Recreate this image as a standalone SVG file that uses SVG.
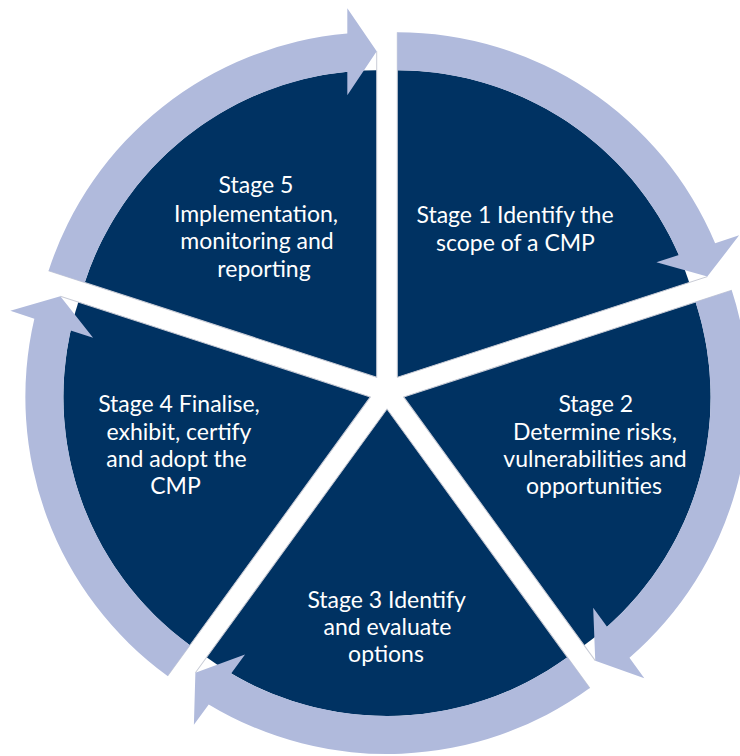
<svg xmlns="http://www.w3.org/2000/svg" width="740" height="756" viewBox="0 0 740 756">
<style>
.wedge{fill:#003262}
.band{fill:#b0badc}
.edge{stroke:#c9ccd6;stroke-width:1;fill:none}
.lbl{font-family:Lato,"Liberation Sans",sans-serif;font-size:23px;fill:#ffffff;text-anchor:middle}
</style>
<defs>
<path id="wedgeShape" class="wedge" d="M0,0 L0,-307 A307,307 0 0 1 291.97,-94.87 Z"/>
<path id="edgeShape" class="edge" d="M0,-345 L0,0 L310.04,-100.74"/>
<path id="arrowBand" class="band" d="M0,-345 A345,345 0 0 1 317.84,-134.18 L341.85,-141.99 L310.04,-100.74 L259.11,-115.10 L281.55,-122.39 A307,307 0 0 0 0,-307 Z"/>
</defs>
<rect width="740" height="756" fill="#ffffff"/>
<g id="stage1">
<use href="#wedgeShape" transform="translate(397.29,377.34) rotate(0)"/>
<use href="#edgeShape" transform="translate(397.29,377.34) rotate(0)"/>
<text class="lbl" x="515" y="223.3">Stage 1 Identify the</text>
<text class="lbl" x="515.5" y="251">scope of a CMP</text>
</g>
<g id="stage2">
<use href="#wedgeShape" transform="translate(403.64,396.91) rotate(72)"/>
<use href="#edgeShape" transform="translate(403.64,396.91) rotate(72)"/>
<text class="lbl" x="595.8" y="412.3">Stage 2</text>
<text class="lbl" x="595" y="440">Determine risks,</text>
<text class="lbl" x="595" y="467">vulnerabilities and</text>
<text class="lbl" x="594" y="494">opportunities</text>
</g>
<g id="stage3">
<use href="#wedgeShape" transform="translate(387,409) rotate(144)"/>
<use href="#edgeShape" transform="translate(387,409) rotate(144)"/>
<text class="lbl" x="386.7" y="608.3">Stage 3 Identify</text>
<text class="lbl" x="387.5" y="635">and evaluate</text>
<text class="lbl" x="386" y="661.7">options</text>
</g>
<g id="stage4">
<use href="#wedgeShape" transform="translate(370.36,396.91) rotate(216)"/>
<use href="#edgeShape" transform="translate(370.36,396.91) rotate(216)"/>
<text class="lbl" x="179" y="412">Stage 4 Finalise,</text>
<text class="lbl" x="179" y="440">exhibit, certify</text>
<text class="lbl" x="176.5" y="467">and adopt the</text>
<text class="lbl" x="175.5" y="493.5">CMP</text>
</g>
<g id="stage5">
<use href="#wedgeShape" transform="translate(376.71,377.34) rotate(288)"/>
<use href="#edgeShape" transform="translate(376.71,377.34) rotate(288)"/>
<text class="lbl" x="256" y="193.3">Stage 5</text>
<text class="lbl" x="256" y="221.5">Implementation,</text>
<text class="lbl" x="257" y="249">monitoring and</text>
<text class="lbl" x="264" y="276.5">reporting</text>
</g>
<g id="connectors">
<use href="#arrowBand" transform="translate(397.29,377.34) rotate(0)"/>
<use href="#arrowBand" transform="translate(403.64,396.91) rotate(72)"/>
<use href="#arrowBand" transform="translate(387,409) rotate(144)"/>
<use href="#arrowBand" transform="translate(370.36,396.91) rotate(216)"/>
<use href="#arrowBand" transform="translate(376.71,377.34) rotate(288)"/>
</g>
</svg>
